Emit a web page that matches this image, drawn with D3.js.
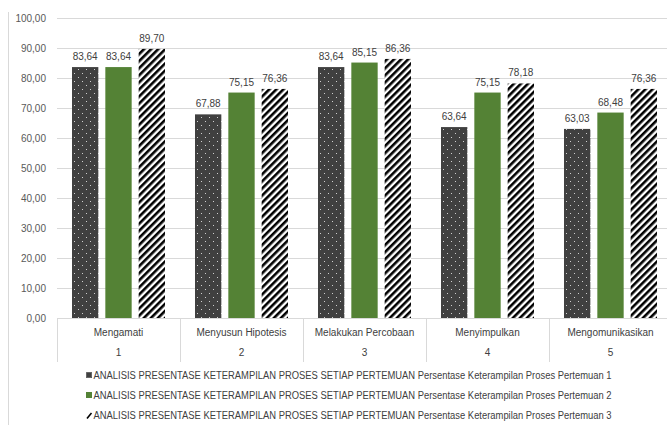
<!DOCTYPE html>
<html>
<head>
<meta charset="utf-8">
<script src="https://cdn.jsdelivr.net/npm/d3@7"></script>
<style>
  html, body { margin: 0; padding: 0; background: #fff; }
  svg { display: block; font-family: "Liberation Sans", Arial, sans-serif; }
</style>
</head>
<body>
<svg id="chart" width="667" height="425"></svg>
<script>
// Skill categories and their meeting numbers
const categories = ["Mengamati", "Menyusun Hipotesis", "Melakukan Percobaan", "Menyimpulkan", "Mengomunikasikan"];
const categoryNumbers = ["1", "2", "3", "4", "5"];

// Percentages per meeting
const meeting1 = [83.64, 67.88, 83.64, 63.64, 63.03];
const meeting2 = [83.64, 75.15, 85.15, 75.15, 68.48];
const meeting3 = [89.70, 76.36, 86.36, 78.18, 76.36];

const seriesNames = [
  "ANALISIS PRESENTASE KETERAMPILAN PROSES SETIAP PERTEMUAN Persentase Keterampilan Proses Pertemuan 1",
  "ANALISIS PRESENTASE KETERAMPILAN PROSES SETIAP PERTEMUAN Persentase Keterampilan Proses Pertemuan 2",
  "ANALISIS PRESENTASE KETERAMPILAN PROSES SETIAP PERTEMUAN Persentase Keterampilan Proses Pertemuan 3"
];

const yTicks = [0, 10, 20, 30, 40, 50, 60, 70, 80, 90, 100];

const series = [meeting1, meeting2, meeting3];
const fills = ["url(#dots)", "#548235", "url(#hatch)"];

const svg = d3.select("#chart");
const fmt = v => d3.format(".2f")(v).replace(".", ",");

// Fill patterns
const defs = svg.append("defs");
const dots = defs.append("pattern").attr("id", "dots")
  .attr("patternUnits", "userSpaceOnUse").attr("width", 8).attr("height", 8);
dots.append("rect").attr("width", 8).attr("height", 8).attr("fill", "#404040");
dots.append("rect").attr("x", 1).attr("y", 1).attr("width", 1).attr("height", 1).attr("fill", "#d0d0d0");
dots.append("rect").attr("x", 5).attr("y", 5).attr("width", 1).attr("height", 1).attr("fill", "#d0d0d0");

const hatch = defs.append("pattern").attr("id", "hatch")
  .attr("patternUnits", "userSpaceOnUse").attr("width", 5).attr("height", 5)
  .attr("patternTransform", "rotate(45)");
hatch.append("rect").attr("width", 5).attr("height", 5).attr("fill", "#fff");
hatch.append("rect").attr("width", 2.6).attr("height", 5).attr("fill", "#000");

// Outer chart frame edge
svg.append("line").attr("x1", 8.5).attr("x2", 8.5).attr("y1", 12).attr("y2", 425)
  .attr("stroke", "#d9d9d9");

// Scales
const y = d3.scaleLinear().domain([0, 100]).range([318, 18]);
const x0 = d3.scaleBand().domain(categories).range([57, 672]);
const x1 = d3.scaleBand().domain([0, 1, 2]).range([15, 108]).paddingInner(0.21);

// Gridlines
svg.append("g").selectAll("line").data(yTicks).join("line")
  .attr("x1", 57).attr("x2", 672)
  .attr("y1", d => Math.round(y(d)) + 0.5).attr("y2", d => Math.round(y(d)) + 0.5)
  .attr("stroke", "#d9d9d9").attr("stroke-width", 1);

// Y axis labels
const yAxis = d3.axisLeft(y).tickValues(yTicks).tickFormat(fmt).tickSize(0).tickPadding(0);
const yg = svg.append("g").attr("transform", "translate(46,0)").call(yAxis);
yg.select(".domain").remove();
yg.selectAll("text").attr("fill", "#595959").attr("font-size", 10)
  .attr("font-family", "Liberation Sans, Arial, sans-serif");

// Bars
const groups = svg.append("g").selectAll("g").data(categories).join("g")
  .attr("transform", c => `translate(${x0(c)},0)`);

series.forEach((vals, si) => {
  groups.append("rect")
    .attr("x", x1(si))
    .attr("width", x1.bandwidth())
    .attr("y", (c, i) => y(vals[i]))
    .attr("height", (c, i) => y(0) - y(vals[i]))
    .attr("fill", fills[si]);
  groups.append("text")
    .attr("x", x1(si) + x1.bandwidth() / 2)
    .attr("y", (c, i) => y(vals[i]) - 7)
    .attr("text-anchor", "middle")
    .attr("font-size", 10)
    .attr("fill", "#404040")
    .text((c, i) => fmt(vals[i]));
});

// Category axis: baseline, separators, two label rows
svg.append("line").attr("x1", 57).attr("x2", 672).attr("y1", 318.5).attr("y2", 318.5)
  .attr("stroke", "#d9d9d9");
const bounds = categories.map(c => x0(c)).concat([x0.range()[1]]);
svg.append("g").selectAll("line").data(bounds).join("line")
  .attr("x1", d => Math.round(d) + 0.5).attr("x2", d => Math.round(d) + 0.5)
  .attr("y1", 318).attr("y2", 362)
  .attr("stroke", "#d9d9d9");

svg.append("g").selectAll("text").data(categories).join("text")
  .attr("x", c => x0(c) + x0.bandwidth() / 2)
  .attr("y", 336)
  .attr("text-anchor", "middle").attr("font-size", 10).attr("fill", "#404040")
  .text(c => c);
svg.append("g").selectAll("text").data(categories).join("text")
  .attr("x", c => x0(c) + x0.bandwidth() / 2)
  .attr("y", 356)
  .attr("text-anchor", "middle").attr("font-size", 10).attr("fill", "#404040")
  .text((c, i) => categoryNumbers[i]);

// Legend
const legend = svg.append("g").selectAll("g").data(seriesNames).join("g")
  .attr("transform", (d, i) => `translate(86,${372 + i * 20})`);
legend.each(function(d, i) {
  const g = d3.select(this);
  if (i < 2) {
    g.append("rect").attr("x", 0).attr("y", 0).attr("width", 6).attr("height", 6)
      .attr("fill", i === 0 ? "#404040" : "#548235");
    if (i === 0) {
      g.append("rect").attr("x", 0.5).attr("y", 0.5).attr("width", 5).attr("height", 5)
        .attr("fill", "none").attr("stroke", "#808080").attr("stroke-width", 0.6);
    }
  } else {
    g.append("line").attr("x1", 1).attr("y1", 6.5).attr("x2", 5.5).attr("y2", 1)
      .attr("stroke", "#000").attr("stroke-width", 1.6);
  }
  g.append("text").attr("x", 7.5).attr("y", 6.8)
    .attr("font-size", 10).attr("fill", "#404040")
    .attr("textLength", 518).attr("lengthAdjust", "spacingAndGlyphs")
    .text(d);
});
</script>
</body>
</html>
